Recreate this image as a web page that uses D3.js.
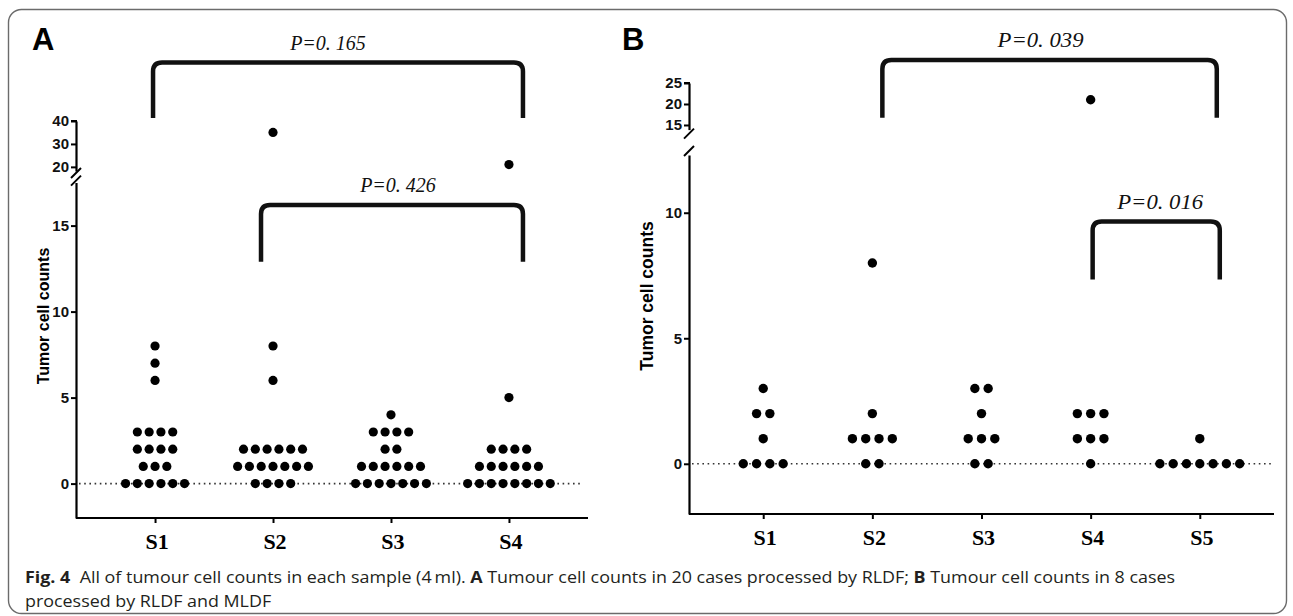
<!DOCTYPE html>
<html><head><meta charset="utf-8">
<script src="https://cdn.jsdelivr.net/npm/d3@7"></script>
<style>body{margin:0;background:#fff;} svg{display:block;}</style>
</head><body>
<svg id="chart" width="1293" height="616"></svg>
<script>
// ---------- data ----------
const categoriesA = ["S1","S2","S3","S4"];
const countsA_S1 = [8,7,6,3,3,3,3,2,2,2,2,1,1,1,0,0,0,0,0,0];
const countsA_S2 = [35,8,6,2,2,2,2,2,2,1,1,1,1,1,1,1,0,0,0,0];
const countsA_S3 = [4,3,3,3,3,2,2,1,1,1,1,1,1,0,0,0,0,0,0,0];
const countsA_S4 = [21,5,2,2,2,2,1,1,1,1,1,1,0,0,0,0,0,0,0,0];
const categoriesB = ["S1","S2","S3","S4","S5"];
const countsB_S1 = [3,2,2,1,0,0,0,0];
const countsB_S2 = [8,2,1,1,1,1,0,0];
const countsB_S3 = [3,3,2,1,1,1,0,0];
const countsB_S4 = [21,2,2,2,1,1,1,0];
const countsB_S5 = [1,0,0,0,0,0,0,0];
const ticksA_upper = [20,30,40];
const ticksA_lower = [0,5,10,15];
const ticksB_upper = [15,20,25];
const ticksB_lower = [0,5,10];
const comparisonsA = [["S1","S4"],["S2","S4"]];
const pValuesA = ["P=0. 165","P=0. 426"];
const comparisonsB = [["S2","S5"],["S4","S5"]];
const pValuesB = ["P=0. 039","P=0. 016"];
const yTitle = "Tumor cell counts";
const panelLabels = ["A","B"];
const captionBold1 = "Fig. 4";
const captionText1 = "  All of tumour cell counts in each sample (4\u2009ml). ";
const captionTextA = " Tumour cell counts in 20 cases processed by RLDF; ";
const captionTextB = " Tumour cell counts in 8 cases";
const captionLine2 = "processed by RLDF and MLDF";

const svg = d3.select("#chart");
svg.append("rect").attr("width",1293).attr("height",616).attr("fill","#fff");
svg.append("rect").attr("x",8.5).attr("y",9.5).attr("width",1278).attr("height",604)
  .attr("rx",13).attr("fill","none").attr("stroke","#6b6b6b").attr("stroke-width",1.4);

function drawPanel(cfg){
  const g = svg.append("g");
  const x = d3.scalePoint().domain(cfg.cats).range([cfg.axisX, cfg.axisRight]).padding(cfg.xPad);
  const yL = d3.scaleLinear().domain(cfg.lowerDomain).range(cfg.lowerRange);
  const yU = d3.scaleLinear().domain(cfg.upperDomain).range(cfg.upperRange);

  g.append("text").attr("x",cfg.labelX).attr("y",50).text(cfg.label)
    .attr("font-family","Liberation Sans, Arial").attr("font-weight","bold").attr("font-size",31).attr("fill","#000");

  g.append("line").attr("x1",cfg.axisX+3).attr("x2",cfg.zeroEnd).attr("y1",yL(0)).attr("y2",yL(0))
    .attr("stroke","#333").attr("stroke-width",1.6).attr("stroke-dasharray","1.6,3.6");

  const styleAxis = sel => {
    sel.selectAll("path.domain").attr("stroke","#000").attr("stroke-width",2.2);
    sel.selectAll(".tick line").attr("stroke","#000").attr("stroke-width",2);
    sel.selectAll(".tick text").attr("font-family","Liberation Sans, Arial").attr("font-weight","bold")
      .attr("font-size",cfg.tickFont).attr("fill","#111");
  };
  g.append("g").attr("transform",`translate(${cfg.axisX},0)`)
    .call(d3.axisLeft(yL).tickValues(cfg.lowerTicks).tickSize(5).tickSizeOuter(0).tickPadding(2))
    .call(styleAxis);
  g.append("g").attr("transform",`translate(${cfg.axisX},0)`)
    .call(d3.axisLeft(yU).tickValues(cfg.upperTicks).tickSize(5).tickSizeOuter(0).tickPadding(2))
    .call(styleAxis);
  g.append("line").attr("x1",cfg.axisX-5).attr("x2",cfg.axisX+1).attr("y1",yU(cfg.upperDomain[1])).attr("y2",yU(cfg.upperDomain[1]))
    .attr("stroke","#000").attr("stroke-width",2);
  const uEnd = cfg.upperRange[0], lStart = cfg.lowerRange[1];
  [uEnd+cfg.slashOff, lStart-cfg.slashOff].forEach(cy=>{
    g.append("line").attr("x1",cfg.axisX-5).attr("y1",cy+5).attr("x2",cfg.axisX+5).attr("y2",cy-5)
      .attr("stroke","#000").attr("stroke-width",2);
  });
  const xa = g.append("g").attr("transform",`translate(0,${cfg.lowerRange[0]})`)
    .call(d3.axisBottom(x).tickSize(5).tickSizeOuter(0).tickFormat(""));
  xa.selectAll("path.domain").attr("stroke","#000").attr("stroke-width",2.2)
    .attr("d",`M${cfg.axisX},0H${cfg.axisRight}`);
  xa.selectAll(".tick line").attr("stroke","#000").attr("stroke-width",2);
  g.selectAll("text.xl").data(cfg.cats).enter().append("text").attr("class","xl")
    .attr("x",d=>x(d)+2).attr("y",cfg.lowerRange[0]+31).attr("text-anchor","middle")
    .attr("font-family","Liberation Serif, Times New Roman").attr("font-weight","bold").attr("font-size",22)
    .attr("fill","#000").text(d=>d);

  g.append("text").attr("transform",`translate(${cfg.titleX},${cfg.titleY}) rotate(-90)`)
    .attr("text-anchor","middle").attr("dominant-baseline","central")
    .attr("font-family","Liberation Sans, Arial").attr("font-weight","bold").attr("font-size",cfg.titleFont)
    .attr("fill","#000").text(yTitle);

  const pts = [];
  cfg.cats.forEach((c,ci)=>{
    const arr = cfg.counts[ci];
    const groups = d3.rollup(arr, v=>v.length, d=>d);
    for (const [val,n] of groups){
      for (let i=0;i<n;i++){
        pts.push({c, val, off:(i-(n-1)/2)*cfg.dotStep});
      }
    }
  });
  g.selectAll("circle.dot").data(pts).enter().append("circle").attr("class","dot")
    .attr("cx",d=>x(d.c)+d.off)
    .attr("cy",d=>d.val>cfg.breakVal ? yU(d.val) : yL(d.val))
    .attr("r",cfg.dotR).attr("fill","#000");

  cfg.brackets.forEach((b,i)=>{
    const sc = b.scale==="upper" ? yU : yL;
    const x1 = x(cfg.comps[i][0]) + b.dl, x2 = x(cfg.comps[i][1]) + b.dr;
    const yt = sc(b.top), yb = sc(b.bottom), r = 9;
    g.append("path").attr("d",`M${x1},${yb}L${x1},${yt+r}Q${x1},${yt} ${x1+r},${yt}L${x2-r},${yt}Q${x2},${yt} ${x2},${yt+r}L${x2},${yb}`)
      .attr("fill","none").attr("stroke","#111").attr("stroke-width",4.5);
    const t = g.append("text").attr("x",(x1+x2)/2 + b.tx).attr("y",yt-13).attr("text-anchor","middle")
      .attr("font-family","Liberation Serif, Times New Roman").attr("font-style","italic")
      .attr("font-size",20).attr("fill","#111").text(cfg.pvals[i]);
    if (cfg.pWidth) t.attr("textLength",cfg.pWidth).attr("lengthAdjust","spacingAndGlyphs");
  });
}

drawPanel({
  label:panelLabels[0], labelX:32, cats:categoriesA,
  counts:[countsA_S1,countsA_S2,countsA_S3,countsA_S4],
  axisX:76, axisRight:588, xPad:0.67,
  lowerDomain:[-2,17.5], lowerRange:[518,182.6], lowerTicks:ticksA_lower,
  upperDomain:[18.2,40], upperRange:[171,121], upperTicks:ticksA_upper,
  breakVal:17.8, dotR:4.6, dotStep:11.8, zeroEnd:580, tickFont:15,
  titleX:43, titleY:316, titleFont:16, slashOff:2,
  comps:comparisonsA, pvals:pValuesA, pWidth:null,
  brackets:[{scale:"upper",top:65.5,bottom:41.3,dl:-2,dr:14,tx:-10},{scale:"lower",top:16.2,bottom:12.9,dl:-12,dr:14,tx:6}]
});
drawPanel({
  label:panelLabels[1], labelX:622, cats:categoriesB,
  counts:[countsB_S1,countsB_S2,countsB_S3,countsB_S4,countsB_S5],
  axisX:689, axisRight:1274, xPad:0.68,
  lowerDomain:[-2,12.3], lowerRange:[514,155], lowerTicks:ticksB_lower,
  upperDomain:[13.9,25], upperRange:[129.6,83], upperTicks:ticksB_upper,
  breakVal:12.5, dotR:4.7, dotStep:13.3, zeroEnd:1272, tickFont:15,
  titleX:647, titleY:296, titleFont:17.5, slashOff:4,
  comps:comparisonsB, pvals:pValuesB, pWidth:86,
  brackets:[{scale:"upper",top:30.5,bottom:16.7,dl:10,dr:17,tx:-9},{scale:"lower",top:9.65,bottom:7.34,dl:2,dr:20,tx:4}]
});

const cap = svg.append("g").attr("font-family","Open Sans, Noto Sans, sans-serif").attr("font-size",16.5).attr("fill","#231f20");
const l1 = cap.append("text").attr("x",25).attr("y",583).attr("xml:space","preserve");
l1.append("tspan").attr("font-weight","bold").text(captionBold1);
l1.append("tspan").text(captionText1);
l1.append("tspan").attr("font-weight","bold").text(panelLabels[0]);
l1.append("tspan").text(captionTextA);
l1.append("tspan").attr("font-weight","bold").text(panelLabels[1]);
l1.append("tspan").text(captionTextB);
const nat1 = l1.node().getComputedTextLength();
const target1 = 1150;
const ratio = target1/nat1;
l1.attr("textLength",target1).attr("lengthAdjust","spacingAndGlyphs");
const l2 = cap.append("text").attr("x",25).attr("y",607).text(captionLine2);
const nat2 = l2.node().getComputedTextLength();
l2.attr("textLength",nat2*ratio).attr("lengthAdjust","spacingAndGlyphs");
</script>
</body></html>
